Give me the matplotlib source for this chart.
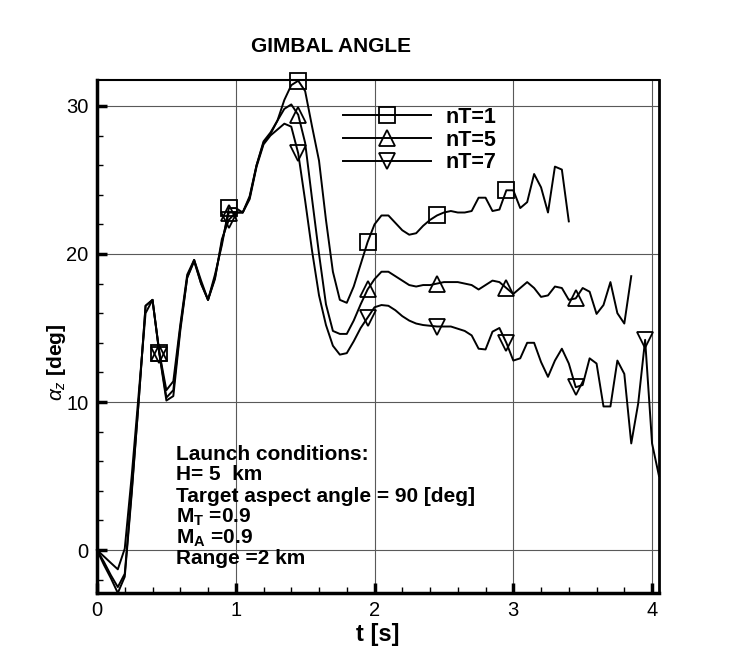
import numpy as np
import matplotlib
matplotlib.use("Agg")
import matplotlib.pyplot as plt
from matplotlib.ticker import MultipleLocator

plt.rcParams['font.family'] = ['Liberation Sans', 'DejaVu Sans']
plt.rcParams['mathtext.fontset'] = 'custom'
plt.rcParams['mathtext.rm'] = 'Liberation Sans'
plt.rcParams['mathtext.it'] = 'Liberation Sans:italic'
plt.rcParams['mathtext.bf'] = 'Liberation Sans:bold'

# time grid step 0.05 s
t_step = 0.05

nT1 = [0.0, -0.43, -0.87, -1.3, 0.1, 5.0, 10.5, 16.0, 16.9, 13.3,
       10.8, 11.4, 15.2, 18.6, 19.6, 18.2, 16.9, 18.6, 20.6, 23.1,
       23.1, 22.8, 23.9, 26.0, 27.5, 28.1, 29.0, 30.4, 31.4, 31.7,
       31.0, 28.6, 26.3, 22.3, 18.8, 16.9, 16.7, 17.8, 19.3, 20.8,
       22.0, 22.6, 22.6, 22.1, 21.6, 21.3, 21.4, 21.9, 22.3, 22.6,
       22.8, 22.9, 22.8, 22.8, 22.9, 23.8, 23.8, 22.9, 23.0, 24.3,
       24.3, 23.1, 23.5, 25.4, 24.5, 22.8, 25.9, 25.7, 22.2]

nT5 = [0.0, -0.8, -1.7, -2.5, -1.6, 4.0, 10.0, 16.5, 16.9, 13.3,
       10.3, 10.8, 15.0, 18.4, 19.6, 18.0, 16.9, 18.4, 20.8, 22.8,
       22.8, 22.8, 23.8, 26.0, 27.6, 28.2, 29.0, 29.8, 30.1, 29.4,
       27.5, 23.7, 20.0, 16.6, 14.8, 14.6, 14.6, 15.5, 16.6, 17.6,
       18.3, 18.8, 18.8, 18.5, 18.2, 17.9, 17.8, 17.9, 17.9, 18.0,
       18.1, 18.1, 18.1, 18.0, 17.9, 17.6, 17.9, 18.2, 18.1, 17.7,
       17.3, 17.7, 18.1, 17.7, 17.1, 17.2, 17.8, 17.7, 16.9, 17.0,
       17.7, 17.45, 15.95, 16.55, 18.1, 16.0, 15.3, 18.5]

nT7 = [0.0, -1.0, -1.9, -2.9, -1.8, 3.8, 10.0, 16.5, 16.9, 13.2,
       10.1, 10.4, 14.8, 18.4, 19.5, 18.0, 16.9, 18.3, 21.0, 22.3,
       22.8, 22.8, 23.7, 25.9, 27.4, 28.0, 28.4, 28.8, 28.6, 26.8,
       23.6, 20.2, 17.2, 15.2, 13.8, 13.2, 13.3, 14.1, 15.0, 15.7,
       16.4, 16.55, 16.5, 16.2, 15.8, 15.5, 15.3, 15.2, 15.15, 15.1,
       15.1, 15.1, 14.95, 14.8, 14.5, 13.6, 13.55, 14.75, 15.0, 14.0,
       12.8, 12.95, 14.0, 14.0, 12.7, 11.7, 12.8, 13.6, 12.6, 11.0,
       11.15, 12.95, 12.6, 9.7, 9.7, 12.8, 11.9, 7.2, 9.9, 14.2,
       7.2, 5.0]

series = [("nT=1", nT1, 's'), ("nT=5", nT5, '^'), ("nT=7", nT7, 'v')]

info_lines = ["Launch conditions:", "H= 5  km", "Target aspect angle = 90 [deg]",
              r"M$_{\mathbf{T}}$ =0.9", r"M$_{\mathbf{A}}$ =0.9", "Range =2 km"]

fig = plt.figure(figsize=(7.5, 6.67), dpi=100)
ax = fig.add_axes([97/750, 1-593/667, (659-97)/750, (593-80)/667])

for label, vals, mk in series:
    v = np.array(vals)
    t = np.arange(len(v)) * t_step
    ax.plot(t, v, color='black', lw=1.4, marker=mk, ms=11, mfc='none',
            mec='black', mew=1.3, markevery=list(range(9, len(v), 10)),
            label=label, clip_on=False)

ax.set_xlim(0, 4.05)
ax.set_ylim(-2.9, 31.75)
ax.xaxis.set_major_locator(MultipleLocator(1))
ax.xaxis.set_minor_locator(MultipleLocator(0.2))
ax.yaxis.set_major_locator(MultipleLocator(10))
ax.yaxis.set_minor_locator(MultipleLocator(2))
ax.tick_params(which='major', direction='in', length=7, width=2.5,
               labelsize=14.5, pad=6, top=False, right=False)
ax.tick_params(which='minor', direction='in', length=4, width=1,
               top=False, right=False)
ax.grid(True, which='major', color='0.35', lw=0.8)
ax.set_axisbelow(True)
for side, lw in [('left', 2.5), ('bottom', 2.5), ('right', 2.0), ('top', 1.5)]:
    ax.spines[side].set_linewidth(lw)

ax.set_xlabel("t [s]", fontsize=17, fontweight='bold', labelpad=2)
fig.text(57/750, 1-362/667, r"$\alpha_z$ [deg]", rotation=90, fontsize=15,
         fontweight='bold', ha='center', va='center')
fig.text(331/750, 1-46/667, "GIMBAL ANGLE", fontsize=15, fontweight='bold',
         ha='center', va='center')

leg = ax.legend(loc='upper left', bbox_to_anchor=((343-97)/562, (593-107)/513),
                frameon=False, handlelength=4.1, handletextpad=0.65,
                labelspacing=0.08, borderpad=0, borderaxespad=0, numpoints=1,
                prop={'weight': 'bold', 'size': 15.5})

for i, line in enumerate(info_lines):
    ax.text((176-97)/562, (593-454 - i*21)/513, line, transform=ax.transAxes,
            fontsize=15, fontweight='bold', ha='left', va='center')

fig.savefig("out.png", dpi=100)
